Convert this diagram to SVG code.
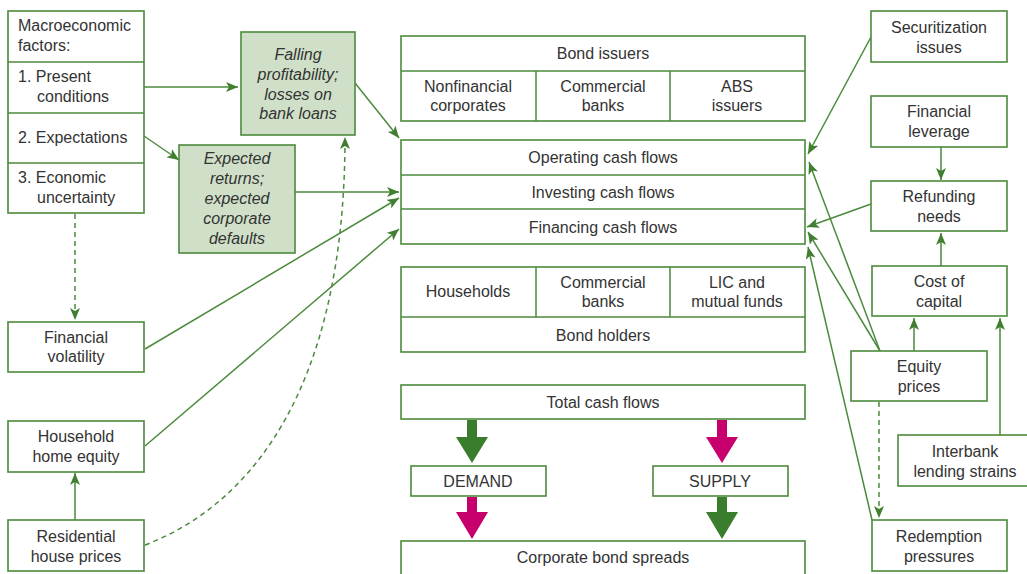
<svg xmlns="http://www.w3.org/2000/svg" width="1027" height="574" viewBox="0 0 1027 574">
<style>
.b{fill:#fff;stroke:#4b8a3c;stroke-width:1.6}
.g{fill:#d0e0c8;stroke:#4b8a3c;stroke-width:1.6}
.l{fill:none;stroke:#4b8a3c;stroke-width:1.5}
text{font-family:"Liberation Sans",Arial,sans-serif;font-size:16px;fill:#333;text-anchor:middle}
.s{text-anchor:start}
.i{font-style:italic}
.d{stroke-dasharray:5,4}
</style>
<defs>
<marker id="a" viewBox="0 0 12 10" refX="12" refY="5" markerWidth="12" markerHeight="10" markerUnits="userSpaceOnUse" orient="auto">
<path d="M0,0 L12,5 L0,10 L3,5 z" fill="#3f7f2f"/>
</marker>
</defs>
<rect width="1027" height="574" fill="#fff"/>
<g id="connectors">
<line class="l" x1="144" y1="87" x2="238" y2="87" marker-end="url(#a)"/>
<line class="l" x1="144" y1="136" x2="179" y2="160" marker-end="url(#a)"/>
<line class="l" x1="355" y1="83" x2="399" y2="138" marker-end="url(#a)"/>
<line class="l" x1="295" y1="192" x2="399" y2="192" marker-end="url(#a)"/>
<line class="l" x1="145" y1="349" x2="399" y2="198" marker-end="url(#a)"/>
<line class="l" x1="145" y1="446" x2="399" y2="229" marker-end="url(#a)"/>
<line class="l d" x1="75" y1="214" x2="75" y2="320" marker-end="url(#a)"/>
<line class="l" x1="75" y1="520" x2="75" y2="473" marker-end="url(#a)"/>
<path class="l d" d="M145,545 C250,505 345,390 345,137" marker-end="url(#a)"/>
<line class="l" x1="871" y1="37" x2="808" y2="154" marker-end="url(#a)"/>
<line class="l" x1="941" y1="147" x2="941" y2="180" marker-end="url(#a)"/>
<line class="l" x1="941" y1="266" x2="941" y2="233" marker-end="url(#a)"/>
<line class="l" x1="871" y1="204" x2="807" y2="227" marker-end="url(#a)"/>
<line class="l" x1="880" y1="351" x2="809" y2="162" marker-end="url(#a)"/>
<line class="l" x1="880" y1="351" x2="808" y2="232" marker-end="url(#a)"/>
<line class="l" x1="872" y1="520" x2="808" y2="247" marker-end="url(#a)"/>
<line class="l" x1="914" y1="351" x2="914" y2="318" marker-end="url(#a)"/>
<line class="l" x1="1000" y1="435" x2="1000" y2="318" marker-end="url(#a)"/>
<line class="l d" x1="879" y1="402" x2="879" y2="518" marker-end="url(#a)"/>
<polygon fill="#3a7d2c" points="467,420 477,420 477,437 488,437 472,463 456,437 467,437"/>
<polygon fill="#c8006e" points="467,497 477,497 477,512 488,512 472,539 456,512 467,512"/>
<polygon fill="#c8006e" points="717,420 727,420 727,437 738,437 722,463 706,437 717,437"/>
<polygon fill="#3a7d2c" points="717,497 727,497 727,512 738,512 722,539 706,512 717,512"/>
</g>
<g id="macro">
<rect class="b" x="8" y="11" width="136" height="202"/>
<line class="l" x1="8" y1="62" x2="144" y2="62"/>
<line class="l" x1="8" y1="113" x2="144" y2="113"/>
<line class="l" x1="8" y1="163" x2="144" y2="163"/>
<text class="s" x="18" y="31">Macroeconomic</text>
<text class="s" x="18" y="51">factors:</text>
<text class="s" x="18" y="82">1. Present</text>
<text class="s" x="37" y="102">conditions</text>
<text class="s" x="18" y="143">2. Expectations</text>
<text class="s" x="18" y="183">3. Economic</text>
<text class="s" x="37" y="203">uncertainty</text>
</g>
<g id="falling">
<rect class="g" x="241" y="32" width="114" height="103"/>
<text class="i" x="298" y="60">Falling</text>
<text class="i" x="298" y="80">profitability;</text>
<text class="i" x="298" y="100">losses on</text>
<text class="i" x="298" y="119">bank loans</text>
</g>
<g id="expected">
<rect class="g" x="179" y="145" width="116" height="108"/>
<text class="i" x="237" y="164">Expected</text>
<text class="i" x="237" y="184">returns;</text>
<text class="i" x="237" y="204">expected</text>
<text class="i" x="237" y="224">corporate</text>
<text class="i" x="237" y="244">defaults</text>
</g>
<g id="issuers">
<rect class="b" x="401" y="36" width="404" height="85"/>
<line class="l" x1="401" y1="71" x2="805" y2="71"/>
<line class="l" x1="536" y1="71" x2="536" y2="121"/>
<line class="l" x1="670" y1="71" x2="670" y2="121"/>
<text x="603" y="59">Bond issuers</text>
<text x="468" y="92">Nonfinancial</text>
<text x="468" y="111">corporates</text>
<text x="603" y="92">Commercial</text>
<text x="603" y="111">banks</text>
<text x="737" y="92">ABS</text>
<text x="737" y="111">issuers</text>
</g>
<g id="cashflows">
<rect class="b" x="401" y="140" width="404" height="104"/>
<line class="l" x1="401" y1="175" x2="805" y2="175"/>
<line class="l" x1="401" y1="209" x2="805" y2="209"/>
<text x="603" y="163">Operating cash flows</text>
<text x="603" y="198">Investing cash flows</text>
<text x="603" y="233">Financing cash flows</text>
</g>
<g id="holders">
<rect class="b" x="401" y="267" width="404" height="85"/>
<line class="l" x1="401" y1="317" x2="805" y2="317"/>
<line class="l" x1="536" y1="267" x2="536" y2="317"/>
<line class="l" x1="670" y1="267" x2="670" y2="317"/>
<text x="468" y="297">Households</text>
<text x="603" y="288">Commercial</text>
<text x="603" y="307">banks</text>
<text x="737" y="288">LIC and</text>
<text x="737" y="307">mutual funds</text>
<text x="603" y="341">Bond holders</text>
</g>
<g id="total"><rect class="b" x="401" y="385" width="404" height="34"/><text x="603" y="408">Total cash flows</text></g>
<g id="demand"><rect class="b" x="411" y="466" width="135" height="30"/><text x="478" y="487">DEMAND</text></g>
<g id="supply"><rect class="b" x="653" y="466" width="135" height="30"/><text x="720" y="487">SUPPLY</text></g>
<g id="spreads"><rect class="b" x="401" y="541" width="404" height="45"/><text x="603" y="563">Corporate bond spreads</text></g>
<g id="volatility"><rect class="b" x="8" y="322" width="136" height="50"/><text x="76" y="343">Financial</text><text x="76" y="362">volatility</text></g>
<g id="household"><rect class="b" x="8" y="421" width="136" height="51"/><text x="76" y="442">Household</text><text x="76" y="462">home equity</text></g>
<g id="residential"><rect class="b" x="8" y="520" width="136" height="51"/><text x="76" y="542">Residential</text><text x="76" y="562">house prices</text></g>
<g id="securitization"><rect class="b" x="871" y="11" width="136" height="51"/><text x="939" y="33">Securitization</text><text x="939" y="53">issues</text></g>
<g id="leverage"><rect class="b" x="871" y="96" width="136" height="51"/><text x="939" y="117">Financial</text><text x="939" y="137">leverage</text></g>
<g id="refunding"><rect class="b" x="871" y="181" width="136" height="50"/><text x="939" y="202">Refunding</text><text x="939" y="222">needs</text></g>
<g id="cost"><rect class="b" x="872" y="266" width="135" height="50"/><text x="939" y="287">Cost of</text><text x="939" y="307">capital</text></g>
<g id="equity"><rect class="b" x="851" y="351" width="136" height="50"/><text x="919" y="372">Equity</text><text x="919" y="392">prices</text></g>
<g id="interbank"><rect class="b" x="898" y="435" width="131" height="51"/><text x="965" y="457">Interbank</text><text x="965" y="477">lending strains</text></g>
<g id="redemption"><rect class="b" x="872" y="520" width="135" height="51"/><text x="939" y="542">Redemption</text><text x="939" y="562">pressures</text></g>
</svg>
